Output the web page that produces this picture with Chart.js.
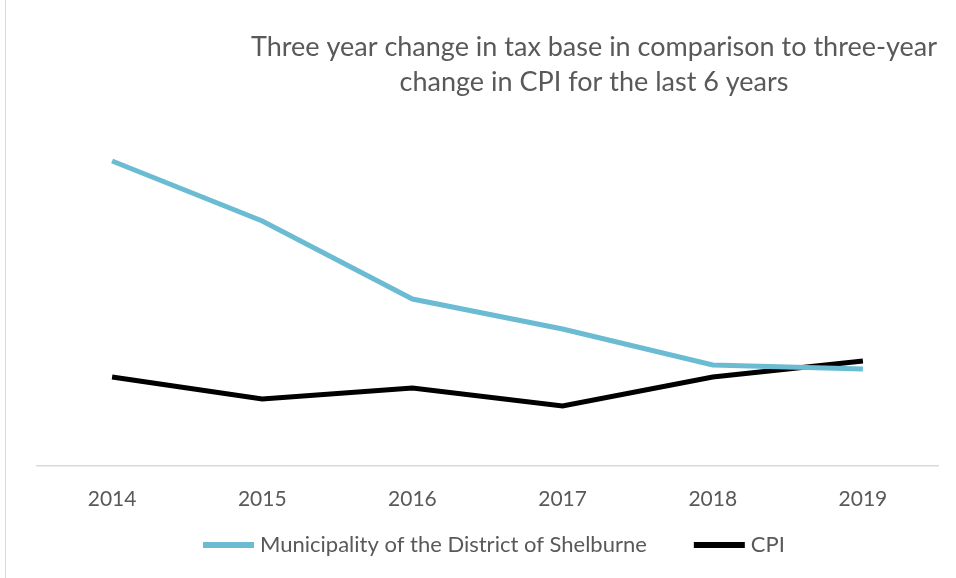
<!DOCTYPE html>
<html>
<head>
<meta charset="utf-8">
<script src="https://cdn.jsdelivr.net/npm/chart.js@4.4.1/dist/chart.umd.min.js"></script>
<style>
  html, body { margin: 0; padding: 0; background: #fff; }
  #wrap { position: relative; width: 956px; height: 578px; }
  #wrap::before { content: ''; position: absolute; left: 5px; top: 0; bottom: 0; border-left: 1px solid #d9d9d9; }
  canvas { display: block; }
</style>
</head>
<body>
<div id="wrap"><canvas id="chart" width="956" height="578"></canvas></div>
<script>
// Dados
const years = ['2014', '2015', '2016', '2017', '2018', '2019'];
const shelburneValues = [15.25, 12.25, 8.35, 6.85, 5.05, 4.85];
const cpiValues = [4.45, 3.35, 3.9, 3.0, 4.45, 5.25];
const titleLines = ['Three year change in tax base in comparison to three-year', 'change in CPI for the last 6 years'];

const FONT = "Lato, 'Liberation Sans', sans-serif";
const TEXT_COLOR = '#595959';

// Título desenhado à mão, centrado à direita como no original
const titlePlugin = {
    id: 'customTitle',
    afterDraw(chart) {
        const ctx = chart.ctx;
        ctx.save();
        ctx.fillStyle = TEXT_COLOR;
        ctx.font = '27px ' + FONT;
        ctx.textAlign = 'center';
        ctx.textBaseline = 'middle';
        ctx.fillText(titleLines[0], 594, 47);
        ctx.fillText(titleLines[1], 594, 82);
        ctx.restore();
    }
};

// Legenda própria (a do Chart.js fica centrada no lugar errado)
const legendPlugin = {
    id: 'customLegend',
    afterDraw(chart) {
        const ctx = chart.ctx;
        ctx.save();
        ctx.font = '22px ' + FONT;
        ctx.textBaseline = 'middle';
        ctx.textAlign = 'left';
        let x = 203;
        const y = 545;
        chart.data.datasets.forEach(ds => {
            ctx.fillStyle = ds.borderColor;
            ctx.fillRect(x, y - 3, 51, 6);
            x += 57;
            ctx.fillStyle = TEXT_COLOR;
            ctx.fillText(ds.label, x, y);
            x += ctx.measureText(ds.label).width + 47;
        });
        ctx.restore();
    }
};

new Chart(document.getElementById('chart').getContext('2d'), {
    type: 'line',
    data: {
        labels: years,
        datasets: [
            {
                label: 'Municipality of the District of Shelburne',
                data: shelburneValues,
                borderColor: '#6bbcd3',
                backgroundColor: '#6bbcd3',
                borderWidth: 5,
                pointRadius: 0,
                tension: 0
            },
            {
                label: 'CPI',
                data: cpiValues,
                borderColor: '#000000',
                backgroundColor: '#000000',
                borderWidth: 5,
                pointRadius: 0,
                tension: 0
            }
        ]
    },
    options: {
        responsive: false,
        animation: false,
        layout: { padding: { top: 120, left: 37, right: 18, bottom: 53 } },
        plugins: {
            title: { display: false },
            tooltip: { enabled: false },
            legend: { display: false }
        },
        scales: {
            x: {
                offset: true,
                grid: { display: false, drawTicks: false },
                border: { display: true, color: '#d9d9d9', width: 1.5 },
                ticks: { color: TEXT_COLOR, padding: 21, font: { family: FONT, size: 21 } },
                afterFit(scale) { scale.height = 59; }
            },
            y: {
                display: false,
                min: 0,
                max: 17.3
            }
        }
    },
    plugins: [titlePlugin, legendPlugin]
});
</script>
</body>
</html>
